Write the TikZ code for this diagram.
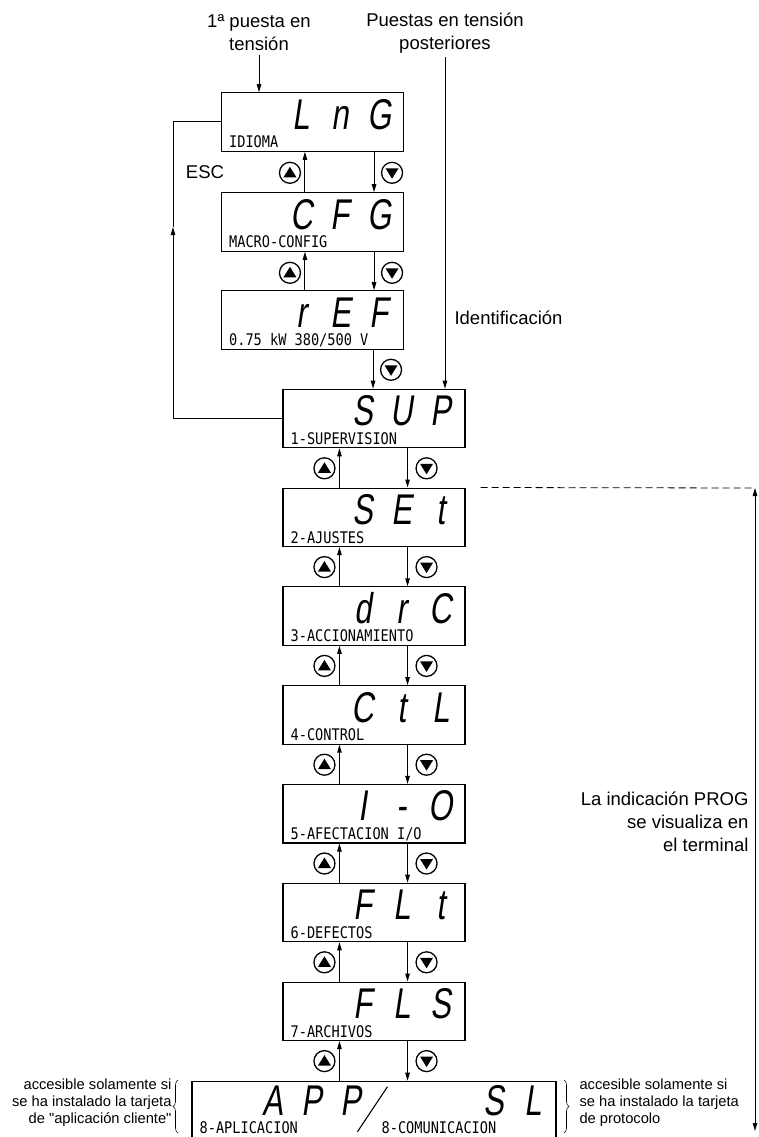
\documentclass[tikz,border=0pt]{standalone}
\usepackage{fontspec}
\setmainfont{Liberation Sans}
\newfontfamily\plainfont{Liberation Sans}
\newfontfamily\segfont[FakeSlant=0.15,FakeStretch=0.72]{Liberation Sans}
\newfontfamily\lcdfont[FakeStretch=0.85]{DejaVu Sans Mono}
\usetikzlibrary{arrows.meta,decorations.pathreplacing}
\newcommand\disp[3]{\makebox[39pt]{#1}\makebox[39pt]{#2}\makebox[39pt]{#3}}

\begin{document}
\begin{tikzpicture}[x=1pt, y=-1pt,
  every node/.style={font=\fontsize{18.5}{23}\selectfont},
  lcdbox/.style={draw, line width=1.1pt, minimum width=182pt, minimum height=58.5pt, inner sep=0pt},
  bigtxt/.style={font=\segfont\fontsize{43}{43}\selectfont, inner sep=0pt},
  lcdlab/.style={font=\lcdfont\fontsize{16}{16}\selectfont, inner sep=0pt},
  small/.style={font=\fontsize{14.7}{17}\selectfont},
  flow/.style={-{Triangle[length=8pt,width=4.5pt]}, line width=1pt},
  btnup/.style={circle, draw, line width=1.3pt, minimum size=21pt, inner sep=0pt,
    path picture={\fill ([yshift=6pt]path picture bounding box.center) -- ++(-6.5pt,-10.5pt) -- ++(13pt,0pt) -- cycle;}},
  btndown/.style={circle, draw, line width=1.3pt, minimum size=21pt, inner sep=0pt,
    path picture={\fill ([yshift=-6pt]path picture bounding box.center) -- ++(-6.5pt,10.5pt) -- ++(13pt,0pt) -- cycle;}},
  brc/.style={decorate, decoration={brace, amplitude=5pt}, line width=0.6pt}]
\useasboundingbox (0,0) rectangle (759,1137);

% first menus
\foreach \nm/\y/\ca/\cb/\cc/\lab in {lng/122/L/n/G/IDIOMA, cfg/222/C/F/G/MACRO-CONFIG, ref/320/r/E/F/{0.75 kW 380/500 V}} {
  \node[lcdbox] (\nm) at (312.5,\y) {};
  \node[bigtxt, anchor=base east] (\nm-big) at ([xshift=-5pt,yshift=-37pt]\nm.north east) {\disp{\ca}{\cb}{\cc}};
  \node[lcdlab, anchor=base west] (\nm-lab) at ([xshift=8pt,yshift=4pt]\nm.south west) {\lab};
}
% main menus
\foreach \nm/\y/\ca/\cb/\cc/\lab in {sup/418.5/S/U/P/1-SUPERVISION, set/517.3/S/E/t/2-AJUSTES, drc/616.1/d/r/C/3-ACCIONAMIENTO,
    ctl/714.9/C/t/L/4-CONTROL, io/813.7/I/-/O/{5-AFECTACION I/O}, flt/912.5/F/L/t/6-DEFECTOS, fls/1011.3/F/L/S/7-ARCHIVOS} {
  \node[lcdbox] (\nm) at (374,\y) {};
  \node[bigtxt, anchor=base east] (\nm-big) at ([xshift=-5pt,yshift=-37pt]\nm.north east) {\disp{\ca}{\cb}{\cc}};
  \node[lcdlab, anchor=base west] (\nm-lab) at ([xshift=8pt,yshift=4pt]\nm.south west) {\lab};
}
\node[lcdbox, minimum width=364pt] (app) at (374,1110.5) {};
\node[bigtxt, anchor=base east] (app-big) at ([xshift=179.5pt,yshift=-35pt]app.north west) {\disp{A}{P}{P}};
\node[bigtxt, anchor=base east] (sl-big) at ([xshift=-4pt,yshift=-35pt]app.north east) {\makebox[39pt]{S}\makebox[39pt]{L}};
\node[lcdlab, anchor=base west] (app-lab) at ([xshift=8pt,yshift=7pt]app.south west) {8-APLICACION};
\node[lcdlab, anchor=base west] (sl-lab) at ([xshift=190pt,yshift=7pt]app.south west) {8-COMUNICACION};
\draw[line width=1.1pt] ([xshift=166pt,yshift=-51pt]app.north west) -- ([xshift=196pt,yshift=-6pt]app.north west);

% up / down keys
\foreach \a/\b in {lng/cfg, cfg/ref} {
  \coordinate (\a-ux) at ([xshift=84pt]\a.south west);
  \coordinate (\a-dx) at ([xshift=-30pt]\a.south east);
  \draw[flow] (\a-ux |- \b.north) -- (\a-ux);
  \draw[flow] (\a-dx) -- (\a-dx |- \b.north);
  \node[btnup] (\a-up) at ([xshift=69pt,yshift=-21pt]\a.south west) {};
  \node[btndown] (\a-dn) at ([xshift=-12pt,yshift=-21pt]\a.south east) {};
}
\coordinate (ref-dx) at ([xshift=-31pt]ref.south east);
\draw[flow] (ref-dx) -- (ref-dx |- sup.north);
\node[btndown] (ref-dn) at ([xshift=-13pt,yshift=-20pt]ref.south east) {};
\foreach \a/\b in {sup/set, set/drc, drc/ctl, ctl/io, io/flt, flt/fls, fls/app} {
  \coordinate (\a-ux) at ([xshift=57pt]\a.south west);
  \coordinate (\a-dx) at ([xshift=-58pt]\a.south east);
  \draw[flow] (\a-ux |- \b.north) -- (\a-ux);
  \draw[flow] (\a-dx) -- (\a-dx |- \b.north);
  \node[btnup] (\a-up) at ([xshift=42pt,yshift=-20pt]\a.south west) {};
  \node[btndown] (\a-dn) at ([xshift=-39pt,yshift=-20pt]\a.south east) {};
}

% power-up entries
\node[align=center] (first) at (259,33) {1ª puesta en\\tensión};
\node[align=center] (later) at (445,33) {Puestas en tensión\\posteriores};
\draw[flow] (first.south) -- (first.south |- lng.north);
\draw[flow] (later.south) -- (later.south |- sup.north);
\node[anchor=west] (ident) at (451,318) {Identificación};

% ESC return
\node (esctext) at (205,172) {ESC};
\coordinate (escup) at (173,227);
\draw[flow] (sup.west) -| (escup);
\draw[line width=1pt] (escup) |- (lng.west);

% PROG range
\coordinate (progtop) at (755,488);
\coordinate (progbot) at (755,1131);
\draw[dash pattern=on 7pt off 4pt, line width=0.8pt] ([xshift=15pt]set.north east) -- (progtop);
\draw[{Triangle[length=8pt,width=4.5pt]}-{Triangle[length=8pt,width=4.5pt]}, line width=1pt] (progtop) -- (progbot);
\node[align=right, anchor=east] (prog) at (752,822) {La indicación PROG\\se visualiza en\\el terminal};

% option cards
\node[small, align=right, anchor=east] (appnote) at (175,1103) {accesible solamente si\\se ha instalado la tarjeta\\de {\plainfont"}aplicación cliente{\plainfont"}};
\node[small, align=left, anchor=west] (slnote) at (576,1103) {accesible solamente si\\se ha instalado la tarjeta\\de protocolo};
\draw[brc] (178,1133) -- (178,1080);
\draw[brc] (564,1080) -- (564,1133);
\end{tikzpicture}
\end{document}
